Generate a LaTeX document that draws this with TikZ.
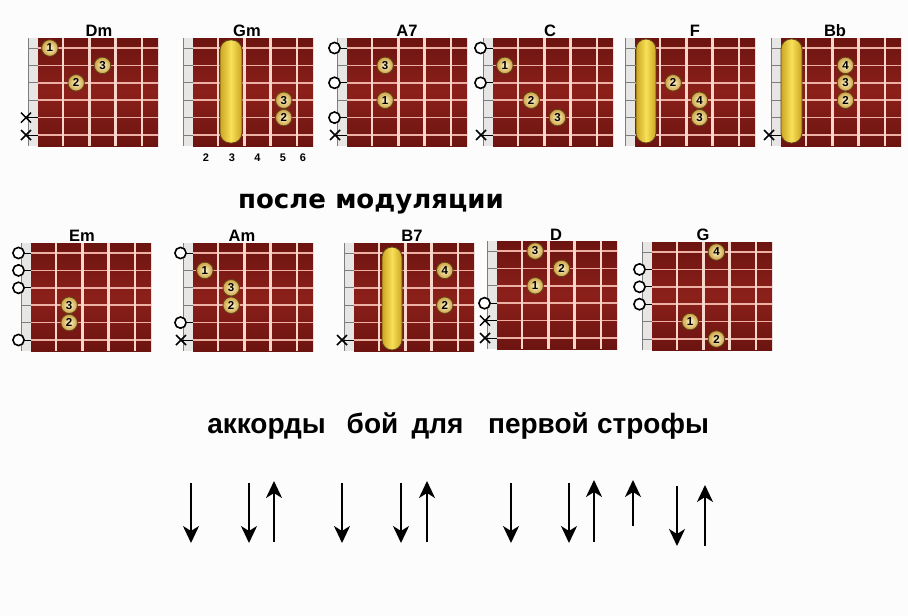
\documentclass[tikz,border=0pt]{standalone}
\usepackage{fontspec}
\setmainfont{Liberation Sans}
\newfontfamily\djv{DejaVu Sans}
\usetikzlibrary{arrows.meta}
\definecolor{bgc}{RGB}{252,252,252}
\definecolor{boardA}{RGB}{108,20,16}
\definecolor{boardB}{RGB}{140,32,26}
\definecolor{fretc}{RGB}{248,214,204}
\definecolor{strc}{RGB}{236,176,164}
\definecolor{nutc}{RGB}{232,230,228}
\definecolor{nutline}{RGB}{125,125,125}
\definecolor{dotin}{RGB}{253,244,205}
\definecolor{dotout}{RGB}{205,162,65}
\definecolor{dotedge}{RGB}{95,68,25}
\definecolor{barL}{RGB}{248,224,88}
\definecolor{barD}{RGB}{205,165,35}
\tikzset{
 lbl/.style={font=\fontsize{16.5}{16.5}\selectfont\bfseries, anchor=base, inner sep=0},
 fnum/.style={font=\fontsize{11}{11}\selectfont\bfseries, anchor=base, inner sep=0},
 dotn/.style={circle, draw=dotedge, line width=0.8pt, minimum size=16.5pt, inner sep=0pt,
   shade, inner color=dotin, outer color=dotout, font=\fontsize{11.5}{11.5}\selectfont\bfseries},
 barrec/.style={draw=dotedge, line width=0.8pt, rounded corners=10pt,
   left color=barD, right color=barD, middle color=barL},
 openm/.style={draw=black, line width=1.6pt, fill=white},
 mutem/.style={draw=black, line width=1.5pt},
 strum/.style={line width=2pt, -{Stealth[length=17pt,width=16pt,inset=5pt]}},
 wordA/.style={font=\djv\fontsize{26}{26}\selectfont\bfseries, anchor=base, inner sep=0},
 wordB/.style={font=\fontsize{28}{28}\selectfont\bfseries, anchor=base, inner sep=0},
}
% board: #1 name, #2 x0, #3 y0
\newcommand\fbd[3]{%
 \def\cn{#1}\def\cbx{#2}\def\cby{#3}%
 \shade[top color=boardA, bottom color=boardA, middle color=boardB] (#2+10,#3) rectangle (#2+130,#3+108);
 \fill[nutc] (#2,#3) rectangle (#2+10,#3+108);
 \draw[nutline, line width=0.5pt] (#2,#3) -- (#2,#3+108);
 \foreach \s in {0,...,5} {
   \draw[nutline, line width=1pt] (#2,#3+10+17.4*\s) -- (#2+10,#3+10+17.4*\s);
   \draw[strc, line width=1.6pt] (#2+10,#3+10+17.4*\s) -- (#2+130,#3+10+17.4*\s);
 }
 \foreach \f in {0,...,3} {
   \draw[fretc, line width=2.4pt] (#2+35+26.3*\f,#3) -- (#2+35+26.3*\f,#3+108);
 }
}
% finger: #1 fret, #2 string, #3 number
\newcommand\fing[3]{%
 \node[dotn] (\cn-#3) at (\cbx+21.85+26.3*#1-26.3, \cby+10+17.4*#2-17.4) {#3};
}
% open string
\newcommand\opn[1]{%
 \draw[line width=0.8pt] (\cbx+2,\cby+10+17.4*#1-17.4) -- (\cbx+10,\cby+10+17.4*#1-17.4);
 \draw[openm] (\cbx-2.5,\cby+10+17.4*#1-17.4) circle (5.6);
}
% muted string
\newcommand\mut[1]{%
 \draw[line width=0.8pt] (\cbx-2,\cby+10+17.4*#1-17.4) -- (\cbx+10,\cby+10+17.4*#1-17.4);
 \draw[mutem] (\cbx-7,\cby+10+17.4*#1-17.4-5) -- (\cbx+3,\cby+10+17.4*#1-17.4+5)
              (\cbx-7,\cby+10+17.4*#1-17.4+5) -- (\cbx+3,\cby+10+17.4*#1-17.4-5);
}
% barre: #1 x offset left, #2 x offset right, #3 y offset top, #4 y offset bottom
\newcommand\barre[4]{%
 \draw[barrec] (\cbx+#1,\cby+#3) rectangle (\cbx+#2,\cby+#4);
}
\begin{document}
\begin{tikzpicture}[x=1pt,y=-1pt]
\fill[bgc] (0,0) rectangle (908,616);
\useasboundingbox (0,0) rectangle (908,616);

% ---------- row 1 ----------
\fbd{Dm}{28}{38}
\mut{5}\mut{6}
\fing{1}{1}{1}\fing{3}{2}{3}\fing{2}{3}{2}
\node[lbl] (lDm) at (99,36) {Dm};

\fbd{Gm}{183}{38}
\barre{37}{59}{2}{105}
\fing{4}{4}{3}\fing{4}{5}{2}
\node[lbl] (lGm) at (247,36) {Gm};
\node[fnum] (n2) at (206,161) {2};
\node[fnum] (n3) at (232,161) {3};
\node[fnum] (n4) at (257.5,161) {4};
\node[fnum] (n5) at (283,161) {5};
\node[fnum] (n6) at (303,161) {6};

\fbd{A7}{337}{38}
\opn{1}\opn{3}\opn{5}\mut{6}
\fing{2}{2}{3}\fing{2}{4}{1}
\node[lbl] (lA7) at (407,36) {A7};

\fbd{C}{483}{38}
\opn{1}\opn{3}\mut{6}
\fing{1}{2}{1}\fing{2}{4}{2}\fing{3}{5}{3}
\node[lbl] (lC) at (550,36) {C};

\fbd{F}{625}{38}
\barre{11}{31}{1}{105}
\fing{2}{3}{2}\fing{3}{4}{4}\fing{3}{5}{3}
\node[lbl] (lF) at (695,36) {F};

\fbd{Bb}{771}{38}
\barre{10}{31}{1}{105}
\mut{6}
\fing{3}{2}{4}\fing{3}{3}{3}\fing{3}{4}{2}
\node[lbl] (lBb) at (835,36) {Bb};

% ---------- middle text ----------
\node[wordA] (w1) at (282,208) {после};
\node[wordA] (w2) at (419.5,208) {модуляции};

% ---------- row 2 ----------
\fbd{Em}{21}{243}
\opn{1}\opn{2}\opn{3}\opn{6}
\fing{2}{4}{3}\fing{2}{5}{2}
\node[lbl] (lEm) at (82,241) {Em};

\fbd{Am}{183}{243}
\opn{1}\opn{5}\mut{6}
\fing{1}{2}{1}\fing{2}{3}{3}\fing{2}{4}{2}
\node[lbl] (lAm) at (242,241) {Am};

\fbd{B7}{344}{243}
\barre{38}{58}{4}{107}
\mut{6}
\fing{4}{2}{4}\fing{4}{4}{2}
\node[lbl] (lB7) at (412,241) {B7};

\fbd{D}{487}{241}
\opn{4}\mut{5}\mut{6}
\fing{2}{1}{3}\fing{3}{2}{2}\fing{2}{3}{1}
\node[lbl] (lD) at (556,240) {D};

\fbd{G}{642}{242}
\opn{2}\opn{3}\opn{4}
\fing{3}{1}{4}\fing{2}{5}{1}\fing{3}{6}{2}
\node[lbl] (lG) at (703,240) {G};

% ---------- bottom text ----------
\node[wordB] (v1) at (266.5,433) {аккорды};
\node[wordB] (v2) at (372.5,433) {бой};
\node[wordB] (v3) at (437.5,433) {для};
\node[wordB] (v4) at (538.5,433) {первой};
\node[wordB] (v5) at (653,433) {строфы};

% ---------- strumming arrows ----------
\foreach \i/\x/\ya/\yb in {1/191/483/543, 2/249/483/543, 3/274/542/481, 4/342/483/543,
  5/401/483/543, 6/427/542/481, 7/511/483/543, 8/569/483/543, 9/594/542/480,
  10/633/526/480, 11/677/486/546, 12/705/546/485} {
  \coordinate (s\i a) at (\x,\ya);
  \coordinate (s\i b) at (\x,\yb);
  \draw[strum] (s\i a) -- (s\i b);
}
\end{tikzpicture}
\end{document}
